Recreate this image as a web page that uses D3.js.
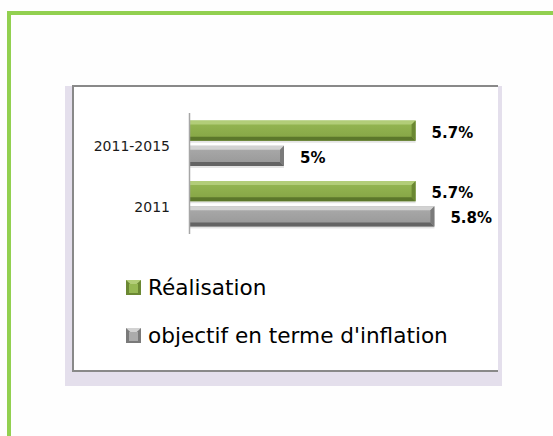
<!DOCTYPE html>
<html>
<head>
<meta charset="utf-8">
<script src="https://cdn.jsdelivr.net/npm/d3@7"></script>
<style>
  body { margin: 0; background: #fefefe; }
  svg { display: block; font-family: "DejaVu Sans", sans-serif; }
</style>
</head>
<body>
<div class="graph"></div>
<script>
// chart data
var categories = ["2011-2015", "2011"];
var seriesNames = ["Réalisation", "objectif en terme d'inflation"];
var realisation = [5.7, 5.7];
var objectif = [5, 5.8];
var valueLabels = [["5.7%", "5%"], ["5.7%", "5.8%"]];

var width = 553;
var height = 436;

var svg = d3.select(".graph").append("svg")
  .attr("width", width)
  .attr("height", height);

// green frame
svg.append("path")
  .attr("d", "M9,436 V13 H553")
  .attr("fill", "none")
  .attr("stroke", "#92d050")
  .attr("stroke-width", 4);

// chart box with shadow
svg.append("rect").attr("x", 65).attr("y", 86).attr("width", 437).attr("height", 300).attr("fill", "#e4dfec");
svg.append("rect").attr("x", 72).attr("y", 85).attr("width", 426).attr("height", 287).attr("fill", "#ffffff");
svg.append("path")
  .attr("d", "M498,86 H73 V371 H498")
  .attr("fill", "none")
  .attr("stroke", "#898989")
  .attr("stroke-width", 2);

var colors = [
  {top: "#b2cd78", face1: "#96b853", face2: "#84a344", right: "#6b8833", bottom: "#5c772b"},
  {top: "#d2d2d2", face1: "#ababab", face2: "#979797", right: "#7a7a7a", bottom: "#646464"}
];

var defs = svg.append("defs");
colors.forEach(function (c, i) {
  var g = defs.append("linearGradient")
    .attr("id", "grad" + i)
    .attr("x1", 0).attr("y1", 0).attr("x2", 0).attr("y2", 1);
  g.append("stop").attr("offset", "0%").attr("stop-color", c.face1);
  g.append("stop").attr("offset", "100%").attr("stop-color", c.face2);
});

var x = d3.scaleLinear()
  .domain([4.5, 6.5])
  .range([190, 566]);

var y = d3.scaleBand()
  .domain(categories)
  .range([113, 234])
  .paddingInner(0.25)
  .paddingOuter(0.125);

var ySeries = d3.scaleBand()
  .domain(seriesNames)
  .range([0, y.bandwidth()])
  .paddingInner(0.2);

var rows = [];
categories.forEach(function (cat, i) {
  rows.push({cat: cat, s: 0, value: realisation[i], label: valueLabels[i][0]});
  rows.push({cat: cat, s: 1, value: objectif[i], label: valueLabels[i][1]});
});

function bevelBar(g, x0, x1, y0, y1, c, i, b) {
  g.append("rect").attr("x", x0).attr("y", y0).attr("width", x1 - x0).attr("height", y1 - y0)
    .attr("fill", "url(#grad" + i + ")");
  g.append("polygon")
    .attr("points", [[x0, y0], [x1, y0], [x1 - b, y0 + b], [x0, y0 + b]].join(" "))
    .attr("fill", c.top);
  g.append("polygon")
    .attr("points", [[x0, y1 - b], [x1 - b, y1 - b], [x1, y1], [x0, y1]].join(" "))
    .attr("fill", c.bottom);
  g.append("polygon")
    .attr("points", [[x1 - b, y0 + b], [x1, y0], [x1, y1], [x1 - b, y1 - b]].join(" "))
    .attr("fill", c.right);
}

var bars = svg.append("g");
rows.forEach(function (d) {
  var y0 = y(d.cat) + ySeries(seriesNames[d.s]);
  var y1 = y0 + ySeries.bandwidth();
  // soft shadow under bar
  bars.append("rect")
    .attr("x", x(4.5)).attr("y", y1).attr("width", x(d.value) - x(4.5)).attr("height", 2)
    .attr("fill", "#d9d9d9").attr("opacity", 0.7);
  bevelBar(bars, x(4.5), x(d.value), y0, y1, colors[d.s], d.s, 4);
  svg.append("text")
    .attr("x", x(d.value) + 16)
    .attr("y", (y0 + y1) / 2 + 7)
    .attr("font-size", "15px")
    .attr("font-weight", "bold")
    .attr("fill", "#000")
    .text(d.label);
});

// axis line
svg.append("line")
  .attr("x1", 189.5).attr("x2", 189.5)
  .attr("y1", 113).attr("y2", 234)
  .attr("stroke", "#a6a6a6")
  .attr("stroke-width", 1.5);

// category labels
categories.forEach(function (cat) {
  svg.append("text")
    .attr("x", 170)
    .attr("y", y(cat) + y.bandwidth() / 2 + 8)
    .attr("text-anchor", "end")
    .attr("font-size", "14px")
    .attr("fill", "#1a1a1a")
    .text(cat);
});

// legend
var legend = svg.append("g");
seriesNames.forEach(function (name, i) {
  var ly = 280 + i * 48;
  var c = colors[i];
  legend.append("rect").attr("x", 126).attr("y", ly).attr("width", 15).attr("height", 15).attr("fill", c.right);
  legend.append("polygon")
    .attr("points", [[126, ly], [141, ly], [133.5, ly + 7]].join(" "))
    .attr("fill", c.top);
  legend.append("rect").attr("x", 129).attr("y", ly + 4).attr("width", 9).attr("height", 9).attr("fill", c.face1);
  legend.append("text")
    .attr("x", 148)
    .attr("y", ly + 15)
    .attr("font-size", "21.6px")
    .attr("fill", "#000")
    .text(name);
});
</script>
</body>
</html>
